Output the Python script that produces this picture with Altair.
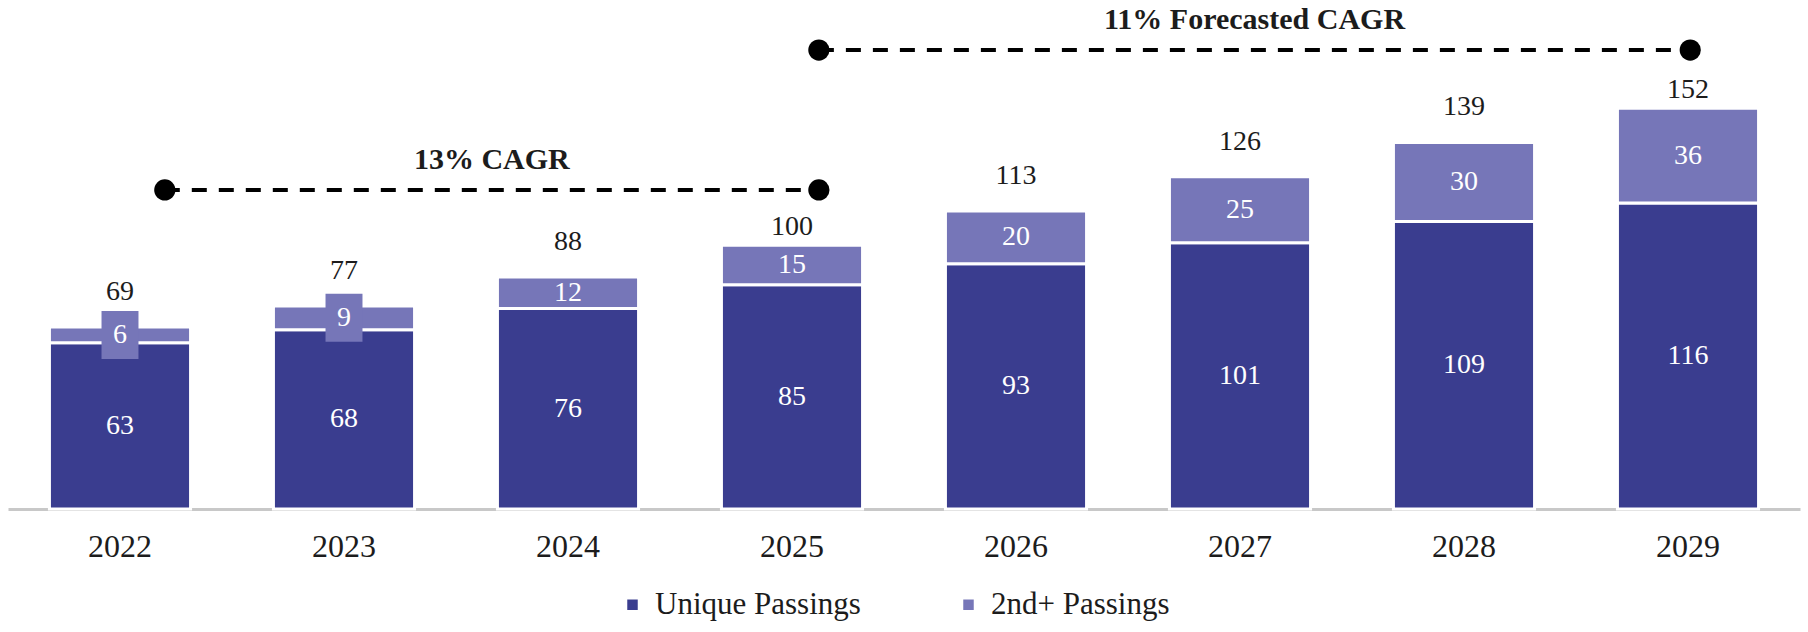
import altair as alt
import pandas as pd

# ---- data ----
years = ["2022", "2023", "2024", "2025", "2026", "2027", "2028", "2029"]
unique_passings = [63, 68, 76, 85, 93, 101, 109, 116]
second_passings = [6, 9, 12, 15, 20, 25, 30, 36]
totals = [69, 77, 88, 100, 113, 126, 139, 152]
series = ["Unique Passings", "2nd+ Passings"]

cagr_labels = ["13% CAGR", "11% Forecasted CAGR"]
cagr_start = ["2022", "2025"]
cagr_end = ["2025", "2029"]
cagr_level = [121, 174]            # height of the bracket line, in value units

# ---- styling ----
DARK = "#3a3d8f"
LIGHT = "#7676b8"
FONT = "Liberation Serif"
TXT = "#1c1c1c"
YMAX = 193
W, H = 1792, 509
start_pos = [0.70, 0.62]            # position of the endpoint dots within the band
end_pos = [0.62, 0.51]

rows = []
for yr, u, s in zip(years, unique_passings, second_passings):
    rows.append({"year": yr, "series": series[0], "value": u, "lo": 0, "hi": u})
    rows.append({"year": yr, "series": series[1], "value": s, "lo": u, "hi": u + s})
df = pd.DataFrame(rows)
df["mid"] = (df["lo"] + df["hi"]) / 2

tot = pd.DataFrame({"year": years, "total": totals})
tot["is_end"] = tot["year"].isin(cagr_end)

ann = pd.DataFrame({
    "label": cagr_labels,
    "xs": [years.index(s) + p for s, p in zip(cagr_start, start_pos)],
    "xe": [years.index(e) + p for e, p in zip(cagr_end, end_pos)],
    "y": cagr_level,
})
ann["xm"] = (ann["xs"] + ann["xe"]) / 2
dots = pd.concat([
    ann[["xs", "y"]].rename(columns={"xs": "x"}),
    ann[["xe", "y"]].rename(columns={"xe": "x"}),
])

xband = alt.X("year:N", sort=years, title=None,
              scale=alt.Scale(paddingInner=0.37, paddingOuter=0.185),
              axis=alt.Axis(labelAngle=0, labelFont=FONT, labelFontSize=32,
                            labelColor=TXT, ticks=False, tickSize=0,
                            labelPadding=22, domainColor="#c8c8c8",
                            domainWidth=3, grid=False))
yscale = alt.Scale(domain=[0, YMAX], nice=False, zero=True)

bars = alt.Chart(df).mark_bar(stroke="white", strokeWidth=3).encode(
    x=xband,
    y=alt.Y("hi:Q", scale=yscale, axis=None, title=None),
    y2="lo:Q",
    color=alt.Color("series:N", sort=series,
                    scale=alt.Scale(domain=series, range=[DARK, LIGHT]),
                    legend=alt.Legend(title=None, orient="none", legendX=609,
                                      legendY=589, direction="horizontal",
                                      symbolType="square", symbolSize=110,
                                      symbolStrokeWidth=0, labelFont=FONT,
                                      labelFontSize=31, labelColor=TXT,
                                      labelLimit=1000,
                                      labelOffset=7, columnPadding=92,
                                      padding=0)),
)

boxes = alt.Chart(df).transform_filter(
    (alt.datum.series == series[1]) & (alt.datum.value < 10)
).mark_point(shape="M-0.77,-1L0.77,-1L0.77,1L-0.77,1Z", filled=True,
             size=2304, color=LIGHT, opacity=1, strokeWidth=0).encode(
    x=xband,
    y=alt.Y("mid:Q", scale=yscale, axis=None),
)

inner = alt.Chart(df).mark_text(font=FONT, fontSize=28, color="white",
                                baseline="middle").encode(
    x=xband,
    y=alt.Y("mid:Q", scale=yscale, axis=None),
    text="value:Q",
)

top_normal = alt.Chart(tot).transform_filter(~alt.datum.is_end).mark_text(
    font=FONT, fontSize=28, color=TXT, baseline="middle", dy=-35).encode(
    x=xband,
    y=alt.Y("total:Q", scale=yscale, axis=None),
    text="total:Q",
)
top_end = alt.Chart(tot).transform_filter(alt.datum.is_end).mark_text(
    font=FONT, fontSize=28, color=TXT, baseline="middle", dy=-18).encode(
    x=xband,
    y=alt.Y("total:Q", scale=yscale, axis=None),
    text="total:Q",
)

main = alt.layer(bars, boxes, inner, top_normal, top_end)

xq = alt.Scale(domain=[0, len(years)], nice=False, zero=False)
rule = alt.Chart(ann).mark_rule(color="black", strokeWidth=4,
                                strokeDash=[15, 12]).encode(
    x=alt.X("xs:Q", scale=xq, axis=None),
    x2="xe:Q",
    y=alt.Y("y:Q", scale=yscale, axis=None),
)
dot = alt.Chart(dots).mark_circle(size=450, color="black", opacity=1).encode(
    x=alt.X("x:Q", scale=xq, axis=None),
    y=alt.Y("y:Q", scale=yscale, axis=None),
)
lab = alt.Chart(ann).mark_text(font=FONT, fontSize=30, fontWeight="bold",
                               color=TXT, baseline="middle", dy=-30).encode(
    x=alt.X("xm:Q", scale=xq, axis=None),
    y=alt.Y("y:Q", scale=yscale, axis=None),
    text="label:N",
)
annot = alt.layer(rule, dot, lab)

chart = alt.layer(main, annot).resolve_scale(x="independent").properties(
    width=W, height=H,
    background="white",
    autosize=alt.AutoSizeParams(type="none"),
    padding={"left": 8, "right": 8, "top": 0, "bottom": 632 - H},
).configure_view(strokeWidth=0, stroke="transparent")

chart.save("out.html", embed_options={"renderer": "svg", "actions": False})
